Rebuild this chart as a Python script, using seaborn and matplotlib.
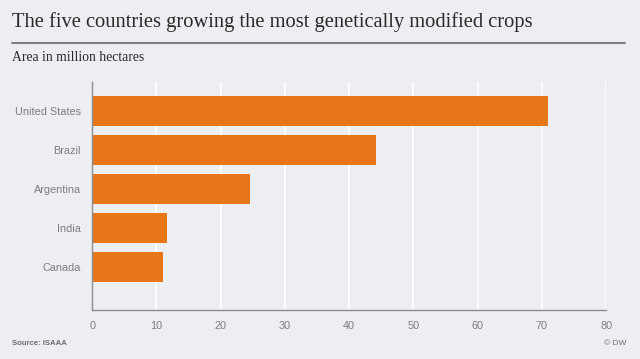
import matplotlib
matplotlib.use("Agg")
import matplotlib.pyplot as plt
import seaborn as sns
import pandas as pd

# Data: GM crop area, million hectares
countries = ["United States", "Brazil", "Argentina", "India", "Canada"]
area = [70.9, 44.2, 24.5, 11.6, 11.0]
x_ticks = [0, 10, 20, 30, 40, 50, 60, 70, 80]

df = pd.DataFrame({"country": countries, "area": area})

bg = "#eceef1"
orange = "#e67617"

sns.set_style("white")
plt.rcParams["font.family"] = ["Liberation Sans", "DejaVu Sans"]

fig = plt.figure(figsize=(6.4, 3.59), dpi=100, facecolor=bg)
ax = fig.add_axes([0.144, 0.1365, 0.803, 0.636])
ax.set_facecolor(bg)

sns.barplot(data=df, y="country", x="area", orient="h", color=orange,
            width=0.77, saturation=1, linewidth=0, ax=ax, zorder=3)

ax.set_xlim(0, 80)
ax.set_ylim(5.1, -0.74)
ax.set_xticks(x_ticks)
ax.xaxis.grid(True, color="white", lw=1.2, zorder=0)
ax.set_xlabel("")
ax.set_ylabel("")
for s in ["top", "right"]:
    ax.spines[s].set_visible(False)
for s in ["left", "bottom"]:
    ax.spines[s].set_color("#8a8d92")
    ax.spines[s].set_linewidth(1)
    ax.spines[s].set_zorder(4)
ax.tick_params(axis="both", length=0, labelsize=7.8, labelcolor="#7a7d82")
ax.tick_params(axis="x", pad=8)
ax.tick_params(axis="y", pad=8)

# header
serif = ["Liberation Serif", "DejaVu Serif"]
fig.text(0.019, 0.938, "The five countries growing the most genetically modified crops",
         family=serif, fontsize=14.8, color="#2a2a2a", va="center", ha="left")
fig.add_artist(plt.Line2D([0.019, 0.977], [0.88, 0.88], color="#7d8085", lw=1.5))
fig.text(0.019, 0.84, "Area in million hectares", family=serif, fontsize=9.8,
         color="#2a2a2a", va="center", ha="left")

# footer
fig.text(0.018, 0.042, "Source: ISAAA", fontsize=5.6, color="#6a6d72",
         fontweight="bold", va="center", ha="left")
fig.text(0.978, 0.042, "\u00a9 DW", fontsize=6, color="#6a6d72",
         va="center", ha="right")

fig.savefig("out.png", dpi=100, facecolor=bg)
